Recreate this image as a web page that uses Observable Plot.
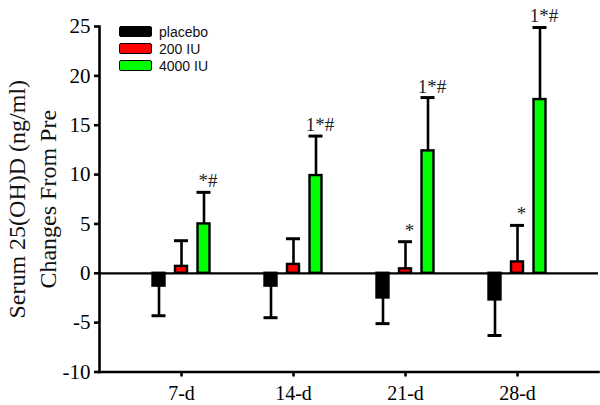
<!DOCTYPE html>
<html>
<head>
<meta charset="utf-8">
<script src="https://cdn.jsdelivr.net/npm/d3@7"></script>
<script src="https://cdn.jsdelivr.net/npm/@observablehq/plot@0.6"></script>
<style>
  html, body { margin: 0; padding: 0; background: #fff; }
  #wrap { position: relative; width: 600px; height: 405px; }
  #legend { position: absolute; left: 119px; top: 23px; font-family: "Liberation Sans", Arial, sans-serif; font-size: 14px; color: #111; }
  .item { display: flex; align-items: center; height: 17px; }
  .sw { width: 31px; height: 9px; border: 1.8px solid #000; border-radius: 2px; margin-right: 7px; }
</style>
</head>
<body>
<div id="wrap"><div id="legend"></div></div>
<script>
const periods = ["7-d", "14-d", "21-d", "28-d"];
const groups = ["placebo", "200 IU", "4000 IU"];
const colors = ["#000000", "#ff0000", "#00ff00"];
const yTicks = [-10, -5, 0, 5, 10, 15, 20, 25];

const placeboMean = [-1.3, -1.3, -2.5, -2.7];
const placeboSD   = [3.0, 3.2, 2.6, 3.6];
const iu200Mean   = [0.7, 0.9, 0.45, 1.15];
const iu200SD     = [2.6, 2.6, 2.75, 3.7];
const iu4000Mean  = [5.0, 9.9, 12.4, 17.6];
const iu4000SD    = [3.2, 4.0, 5.4, 7.3];

const placeboSig = ["", "", "", ""];
const iu200Sig   = ["", "", "*", "*"];
const iu4000Sig  = ["*#", "1*#", "1*#", "1*#"];

const yTitle = "Serum 25(OH)D (ng/ml)\nChanges From Pre";

const seriesMeans = [placeboMean, iu200Mean, iu4000Mean];
const seriesSD = [placeboSD, iu200SD, iu4000SD];
const seriesSig = [placeboSig, iu200Sig, iu4000Sig];

const groupStep = 22.5;   // horizontal spacing of grouped bars (px)
const barInset = 50;      // inset of bars/caps inside each period band

const marks = [];
groups.forEach((g, gi) => {
  const rows = periods.map((p, i) => {
    const v = seriesMeans[gi][i];
    const sd = seriesSD[gi][i];
    return {period: p, group: g, value: v, end: v >= 0 ? v + sd : v - sd, sig: seriesSig[gi][i]};
  });
  const dx = (gi - 1) * groupStep;
  marks.push(
    Plot.ruleX(rows, {x: "period", y1: "value", y2: "end", dx, stroke: "#000", strokeWidth: 2.6}),
    Plot.tickY(rows, {x: "period", y: "end", dx, insetLeft: barInset - 1, insetRight: barInset - 1, stroke: "#000", strokeWidth: 3}),
    Plot.barY(rows, {x: "period", y: "value", dx, fill: colors[gi], stroke: "#000", strokeWidth: 2.4, insetLeft: barInset, insetRight: barInset}),
    Plot.text(rows.filter(d => d.sig), {x: "period", y: "end", text: "sig", dx: dx + 4, dy: -5, lineAnchor: "bottom", fontSize: 19, fill: "#222"})
  );
});

const chart = Plot.plot({
  width: 600,
  height: 405,
  marginLeft: 99,
  marginRight: 2,
  marginTop: 26,
  marginBottom: 33.5,
  style: {fontFamily: "'Liberation Serif', 'Times New Roman', serif", fontSize: "20px", background: "#fff", color: "#000", overflow: "visible"},
  x: {type: "band", domain: periods, paddingInner: 0, paddingOuter: 0.208, label: null},
  y: {domain: [-10, 25], label: null},
  marks: [
    Plot.ruleY([0], {stroke: "#000", strokeWidth: 2.2}),
    ...marks,
    Plot.frame({anchor: "left", stroke: "#000", strokeWidth: 2.6}),
    Plot.frame({anchor: "bottom", stroke: "#000", strokeWidth: 2.6}),
    Plot.axisY({ticks: yTicks, tickFormat: d => String(d), tickSize: 5, tickPadding: 4, strokeWidth: 2.6, label: null, fontSize: 21}),
    Plot.axisX({tickSize: 5, tickPadding: 9, strokeWidth: 2.6, label: null, fontSize: 20}),
    Plot.text([yTitle], {frameAnchor: "left", text: d => d, textAnchor: "middle", rotate: -90, dx: -69, lineHeight: 1.3, fontSize: 24, fill: "#111"})
  ]
});

document.getElementById("wrap").prepend(chart);

const legend = document.getElementById("legend");
groups.forEach((g, gi) => {
  const item = document.createElement("div");
  item.className = "item";
  const sw = document.createElement("div");
  sw.className = "sw";
  sw.style.background = colors[gi];
  const lab = document.createElement("span");
  lab.textContent = g;
  item.append(sw, lab);
  legend.append(item);
});
</script>
</body>
</html>
